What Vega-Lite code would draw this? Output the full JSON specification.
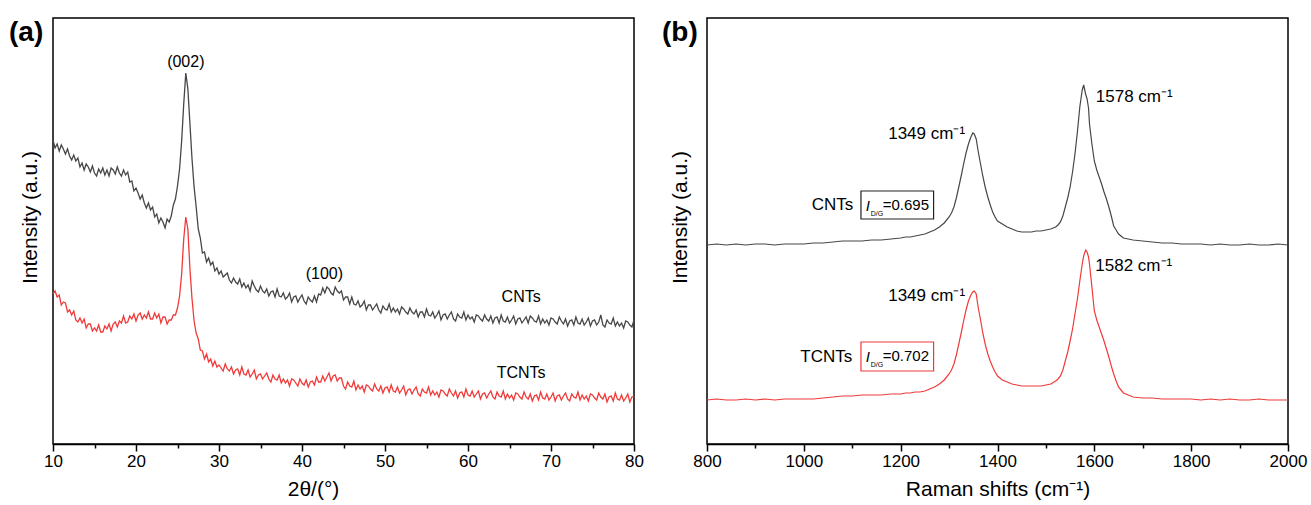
{
 "$schema": "https://vega.github.io/schema/vega-lite/v6.json",
 "padding": {"left": 8, "top": 17, "right": 10, "bottom": 0},
 "background": "white",
 "spacing": 16,
 "config": {
  "font": "Liberation Sans",
  "view": {"stroke": "black", "strokeWidth": 1.5},
  "axis": {"labelFont": "Liberation Sans", "titleFont": "Liberation Sans", "labelColor": "black", "titleColor": "black", "titleFontWeight": "normal", "grid": false, "domainColor": "black", "tickColor": "black"}
 },
 "datasets": {
  "xrd": [
   {"x":10,"CNTs":304,"TCNTs":150},{"x":10.25,"CNTs":296,"TCNTs":153},{"x":10.5,"CNTs":300,"TCNTs":147},{"x":10.75,"CNTs":293,"TCNTs":149},
   {"x":11,"CNTs":299,"TCNTs":139},{"x":11.25,"CNTs":295,"TCNTs":142},{"x":11.5,"CNTs":290,"TCNTs":141},{"x":11.75,"CNTs":295,"TCNTs":132},
   {"x":12,"CNTs":288,"TCNTs":134},{"x":12.25,"CNTs":284,"TCNTs":129},{"x":12.5,"CNTs":289,"TCNTs":133},{"x":12.75,"CNTs":283,"TCNTs":124},
   {"x":13,"CNTs":286,"TCNTs":122},{"x":13.25,"CNTs":277,"TCNTs":126},{"x":13.5,"CNTs":281,"TCNTs":121},{"x":13.75,"CNTs":274,"TCNTs":125},
   {"x":14,"CNTs":280,"TCNTs":116},{"x":14.25,"CNTs":277,"TCNTs":120},{"x":14.5,"CNTs":272,"TCNTs":120},{"x":14.75,"CNTs":278,"TCNTs":113},
   {"x":15,"CNTs":271,"TCNTs":116},{"x":15.25,"CNTs":268,"TCNTs":113},{"x":15.5,"CNTs":275,"TCNTs":119},{"x":15.75,"CNTs":271,"TCNTs":112},
   {"x":16,"CNTs":276,"TCNTs":112},{"x":16.25,"CNTs":269,"TCNTs":118},{"x":16.5,"CNTs":274,"TCNTs":115},{"x":16.75,"CNTs":268,"TCNTs":120},
   {"x":17,"CNTs":276,"TCNTs":113},{"x":17.25,"CNTs":274,"TCNTs":120},{"x":17.5,"CNTs":270,"TCNTs":122},{"x":17.75,"CNTs":277,"TCNTs":117},
   {"x":18,"CNTs":271,"TCNTs":123},{"x":18.25,"CNTs":268,"TCNTs":121},{"x":18.5,"CNTs":274,"TCNTs":128},{"x":18.75,"CNTs":269,"TCNTs":121},
   {"x":19,"CNTs":272,"TCNTs":122},{"x":19.25,"CNTs":262,"TCNTs":128},{"x":19.5,"CNTs":263,"TCNTs":125},{"x":19.75,"CNTs":253,"TCNTs":130},
   {"x":20,"CNTs":256,"TCNTs":123},{"x":20.25,"CNTs":251,"TCNTs":129},{"x":20.5,"CNTs":245,"TCNTs":131},{"x":20.75,"CNTs":249,"TCNTs":125},
   {"x":21,"CNTs":241,"TCNTs":129},{"x":21.25,"CNTs":236,"TCNTs":126},{"x":21.5,"CNTs":241,"TCNTs":132},{"x":21.75,"CNTs":234,"TCNTs":125},
   {"x":22,"CNTs":237,"TCNTs":125},{"x":22.25,"CNTs":227,"TCNTs":131},{"x":22.5,"CNTs":230,"TCNTs":126},{"x":22.75,"CNTs":221,"TCNTs":130},
   {"x":23,"CNTs":226,"TCNTs":121},{"x":23.25,"CNTs":222,"TCNTs":127},{"x":23.5,"CNTs":216,"TCNTs":127},{"x":23.75,"CNTs":225,"TCNTs":120},
   {"x":24,"CNTs":222,"TCNTs":124},{"x":24.25,"CNTs":228,"TCNTs":124},{"x":24.5,"CNTs":239,"TCNTs":129},{"x":24.75,"CNTs":245,"TCNTs":129},
   {"x":25,"CNTs":258,"TCNTs":136},{"x":25.25,"CNTs":275,"TCNTs":148},{"x":25.5,"CNTs":303,"TCNTs":170},{"x":25.75,"CNTs":340,"TCNTs":205},
   {"x":26,"CNTs":371,"TCNTs":227},{"x":26.25,"CNTs":355,"TCNTs":215},{"x":26.5,"CNTs":320,"TCNTs":175},{"x":26.75,"CNTs":285,"TCNTs":145},
   {"x":27,"CNTs":257,"TCNTs":123},{"x":27.25,"CNTs":237,"TCNTs":111},{"x":27.5,"CNTs":215,"TCNTs":105},{"x":27.75,"CNTs":206,"TCNTs":94},
   {"x":28,"CNTs":191,"TCNTs":93},{"x":28.25,"CNTs":192,"TCNTs":85},{"x":28.5,"CNTs":182,"TCNTs":90},{"x":28.75,"CNTs":186,"TCNTs":82},
   {"x":29,"CNTs":179,"TCNTs":85},{"x":29.25,"CNTs":182,"TCNTs":78},{"x":29.5,"CNTs":173,"TCNTs":83},{"x":29.75,"CNTs":176,"TCNTs":77},
   {"x":30,"CNTs":170,"TCNTs":79},
   {"x":30.25,"CNTs":173,"TCNTs":76},{"x":30.5,"CNTs":167,"TCNTs":73},{"x":30.75,"CNTs":169,"TCNTs":80},{"x":31,"CNTs":171,"TCNTs":75},
   {"x":31.25,"CNTs":164,"TCNTs":73},{"x":31.5,"CNTs":161,"TCNTs":77},{"x":31.75,"CNTs":166,"TCNTs":70},{"x":32,"CNTs":162,"TCNTs":74},
   {"x":32.25,"CNTs":160,"TCNTs":75},{"x":32.5,"CNTs":165,"TCNTs":69},{"x":32.75,"CNTs":157,"TCNTs":77},{"x":33,"CNTs":161,"TCNTs":70},
   {"x":33.25,"CNTs":156,"TCNTs":69},{"x":33.5,"CNTs":159,"TCNTs":74},{"x":33.75,"CNTs":153,"TCNTs":67},{"x":34,"CNTs":163,"TCNTs":70},
   {"x":34.25,"CNTs":158,"TCNTs":74},{"x":34.5,"CNTs":154,"TCNTs":65},{"x":34.75,"CNTs":152,"TCNTs":69},{"x":35,"CNTs":158,"TCNTs":70},
   {"x":35.25,"CNTs":153,"TCNTs":65},{"x":35.5,"CNTs":151,"TCNTs":68},{"x":35.75,"CNTs":155,"TCNTs":71},{"x":36,"CNTs":148,"TCNTs":65},
   {"x":36.25,"CNTs":152,"TCNTs":62},{"x":36.5,"CNTs":153,"TCNTs":69},{"x":36.75,"CNTs":147,"TCNTs":65},{"x":37,"CNTs":155,"TCNTs":64},
   {"x":37.25,"CNTs":148,"TCNTs":69},{"x":37.5,"CNTs":147,"TCNTs":61},{"x":37.75,"CNTs":151,"TCNTs":65},{"x":38,"CNTs":145,"TCNTs":61},
   {"x":38.25,"CNTs":147,"TCNTs":64},{"x":38.5,"CNTs":151,"TCNTs":58},{"x":38.75,"CNTs":142,"TCNTs":65},{"x":39,"CNTs":147,"TCNTs":64},
   {"x":39.25,"CNTs":148,"TCNTs":61},{"x":39.5,"CNTs":142,"TCNTs":58},{"x":39.75,"CNTs":146,"TCNTs":65},{"x":40,"CNTs":149,"TCNTs":61},
   {"x":40.25,"CNTs":143,"TCNTs":59},{"x":40.5,"CNTs":140,"TCNTs":64},{"x":40.75,"CNTs":147,"TCNTs":57},{"x":41,"CNTs":144,"TCNTs":62},
   {"x":41.25,"CNTs":142,"TCNTs":63},{"x":41.5,"CNTs":148,"TCNTs":59},{"x":41.75,"CNTs":142,"TCNTs":67},{"x":42,"CNTs":150,"TCNTs":62},
   {"x":42.25,"CNTs":149,"TCNTs":62},{"x":42.5,"CNTs":156,"TCNTs":68},{"x":42.75,"CNTs":151,"TCNTs":63},{"x":43,"CNTs":157,"TCNTs":67},
   {"x":43.25,"CNTs":155,"TCNTs":71},{"x":43.5,"CNTs":151,"TCNTs":63},{"x":43.75,"CNTs":149,"TCNTs":68},{"x":44,"CNTs":157,"TCNTs":69},
   {"x":44.25,"CNTs":153,"TCNTs":63},{"x":44.5,"CNTs":151,"TCNTs":66},{"x":44.75,"CNTs":153,"TCNTs":66},{"x":45,"CNTs":144,"TCNTs":58},
   {"x":45.25,"CNTs":147,"TCNTs":55},{"x":45.5,"CNTs":147,"TCNTs":62},{"x":45.75,"CNTs":140,"TCNTs":58},{"x":46,"CNTs":147,"TCNTs":57},
   {"x":46.25,"CNTs":140,"TCNTs":63},{"x":46.5,"CNTs":139,"TCNTs":54},{"x":46.75,"CNTs":143,"TCNTs":59},{"x":47,"CNTs":137,"TCNTs":55},
   {"x":47.25,"CNTs":139,"TCNTs":58},{"x":47.5,"CNTs":143,"TCNTs":52},{"x":47.75,"CNTs":134,"TCNTs":59},{"x":48,"CNTs":139,"TCNTs":58},
   {"x":48.25,"CNTs":139,"TCNTs":55},{"x":48.5,"CNTs":134,"TCNTs":53},{"x":48.75,"CNTs":137,"TCNTs":60},{"x":49,"CNTs":140,"TCNTs":55},
   {"x":49.25,"CNTs":134,"TCNTs":53},{"x":49.5,"CNTs":131,"TCNTs":58},{"x":49.75,"CNTs":138,"TCNTs":51},{"x":50,"CNTs":135,"TCNTs":56},
   {"x":50.25,"CNTs":134,"TCNTs":57},{"x":50.5,"CNTs":140,"TCNTs":52},{"x":50.75,"CNTs":132,"TCNTs":59},{"x":51,"CNTs":136,"TCNTs":53},
   {"x":51.25,"CNTs":132,"TCNTs":52},{"x":51.5,"CNTs":135,"TCNTs":57},{"x":51.75,"CNTs":130,"TCNTs":51},{"x":52,"CNTs":137,"TCNTs":54},
   {"x":52.25,"CNTs":135,"TCNTs":58},{"x":52.5,"CNTs":132,"TCNTs":49},{"x":52.75,"CNTs":130,"TCNTs":54},{"x":53,"CNTs":136,"TCNTs":55},
   {"x":53.25,"CNTs":132,"TCNTs":50},{"x":53.5,"CNTs":130,"TCNTs":54},{"x":53.75,"CNTs":134,"TCNTs":57},{"x":54,"CNTs":127,"TCNTs":50},
   {"x":54.25,"CNTs":132,"TCNTs":48},{"x":54.5,"CNTs":132,"TCNTs":55},{"x":54.75,"CNTs":127,"TCNTs":52},{"x":55,"CNTs":135,"TCNTs":51},
   {"x":55.25,"CNTs":129,"TCNTs":57},{"x":55.5,"CNTs":128,"TCNTs":49},{"x":55.75,"CNTs":132,"TCNTs":53},{"x":56,"CNTs":126,"TCNTs":49},
   {"x":56.25,"CNTs":129,"TCNTs":52},{"x":56.5,"CNTs":133,"TCNTs":47},{"x":56.75,"CNTs":124,"TCNTs":54},{"x":57,"CNTs":129,"TCNTs":53},
   {"x":57.25,"CNTs":130,"TCNTs":50},{"x":57.5,"CNTs":125,"TCNTs":48},{"x":57.75,"CNTs":129,"TCNTs":55},{"x":58,"CNTs":132,"TCNTs":51},
   {"x":58.25,"CNTs":125,"TCNTs":48},{"x":58.5,"CNTs":123,"TCNTs":53},{"x":58.75,"CNTs":130,"TCNTs":46},{"x":59,"CNTs":127,"TCNTs":51},
   {"x":59.25,"CNTs":126,"TCNTs":52},{"x":59.5,"CNTs":132,"TCNTs":47},{"x":59.75,"CNTs":124,"TCNTs":55},{"x":60,"CNTs":129,"TCNTs":49},
   {"x":60.25,"CNTs":125,"TCNTs":48},{"x":60.5,"CNTs":127,"TCNTs":53},{"x":60.75,"CNTs":122,"TCNTs":47},{"x":61,"CNTs":129,"TCNTs":50},
   {"x":61.25,"CNTs":128,"TCNTs":53},{"x":61.5,"CNTs":125,"TCNTs":45},{"x":61.75,"CNTs":123,"TCNTs":50},{"x":62,"CNTs":129,"TCNTs":51},
   {"x":62.25,"CNTs":125,"TCNTs":46},{"x":62.5,"CNTs":123,"TCNTs":50},{"x":62.75,"CNTs":128,"TCNTs":53},{"x":63,"CNTs":121,"TCNTs":47},
   {"x":63.25,"CNTs":126,"TCNTs":45},{"x":63.5,"CNTs":127,"TCNTs":52},{"x":63.75,"CNTs":121,"TCNTs":48},{"x":64,"CNTs":129,"TCNTs":47},
   {"x":64.25,"CNTs":123,"TCNTs":53},{"x":64.5,"CNTs":122,"TCNTs":45},{"x":64.75,"CNTs":127,"TCNTs":50},{"x":65,"CNTs":121,"TCNTs":46},
   {"x":65.25,"CNTs":124,"TCNTs":49},{"x":65.5,"CNTs":128,"TCNTs":44},{"x":65.75,"CNTs":120,"TCNTs":51},{"x":66,"CNTs":125,"TCNTs":50},
   {"x":66.25,"CNTs":126,"TCNTs":47},{"x":66.5,"CNTs":121,"TCNTs":45},{"x":66.75,"CNTs":124,"TCNTs":52},{"x":67,"CNTs":127,"TCNTs":47},
   {"x":67.25,"CNTs":121,"TCNTs":45},{"x":67.5,"CNTs":128,"TCNTs":50},{"x":67.75,"CNTs":126,"TCNTs":43},{"x":68,"CNTs":123,"TCNTs":48},
   {"x":68.25,"CNTs":122,"TCNTs":49},{"x":68.5,"CNTs":128,"TCNTs":44},{"x":68.75,"CNTs":120,"TCNTs":52},{"x":69,"CNTs":125,"TCNTs":46},
   {"x":69.25,"CNTs":121,"TCNTs":45},{"x":69.5,"CNTs":124,"TCNTs":50},{"x":69.75,"CNTs":119,"TCNTs":44},{"x":70,"CNTs":126,"TCNTs":47},
   {"x":70.25,"CNTs":125,"TCNTs":51},{"x":70.5,"CNTs":122,"TCNTs":43},{"x":70.75,"CNTs":120,"TCNTs":48},{"x":71,"CNTs":127,"TCNTs":49},
   {"x":71.25,"CNTs":123,"TCNTs":44},{"x":71.5,"CNTs":120,"TCNTs":48},{"x":71.75,"CNTs":125,"TCNTs":51},{"x":72,"CNTs":118,"TCNTs":45},
   {"x":72.25,"CNTs":123,"TCNTs":43},{"x":72.5,"CNTs":124,"TCNTs":50},{"x":72.75,"CNTs":119,"TCNTs":47},{"x":73,"CNTs":127,"TCNTs":46},
   {"x":73.25,"CNTs":121,"TCNTs":52},{"x":73.5,"CNTs":120,"TCNTs":44},{"x":73.75,"CNTs":125,"TCNTs":49},{"x":74,"CNTs":119,"TCNTs":45},
   {"x":74.25,"CNTs":122,"TCNTs":48},{"x":74.5,"CNTs":126,"TCNTs":43},{"x":74.75,"CNTs":118,"TCNTs":50},{"x":75,"CNTs":123,"TCNTs":49},
   {"x":75.25,"CNTs":124,"TCNTs":46},{"x":75.5,"CNTs":119,"TCNTs":44},{"x":75.75,"CNTs":122,"TCNTs":51},{"x":76,"CNTs":129,"TCNTs":47},
   {"x":76.25,"CNTs":119,"TCNTs":45},{"x":76.5,"CNTs":117,"TCNTs":50},{"x":76.75,"CNTs":124,"TCNTs":42},{"x":77,"CNTs":121,"TCNTs":47},
   {"x":77.25,"CNTs":120,"TCNTs":48},{"x":77.5,"CNTs":126,"TCNTs":43},{"x":77.75,"CNTs":118,"TCNTs":51},{"x":78,"CNTs":122,"TCNTs":45},
   {"x":78.25,"CNTs":118,"TCNTs":44},{"x":78.5,"CNTs":121,"TCNTs":49},{"x":78.75,"CNTs":116,"TCNTs":43},{"x":79,"CNTs":123,"TCNTs":46},
   {"x":79.25,"CNTs":122,"TCNTs":50},{"x":79.5,"CNTs":119,"TCNTs":42},{"x":79.75,"CNTs":117,"TCNTs":47},{"x":80,"CNTs":124,"TCNTs":48}
  ],
  "raman": [
   {"x":800,"CNTs":199,"TCNTs":44},{"x":820,"CNTs":200,"TCNTs":45},{"x":840,"CNTs":199,"TCNTs":44},{"x":860,"CNTs":200,"TCNTs":44},
   {"x":880,"CNTs":199,"TCNTs":45},{"x":900,"CNTs":200,"TCNTs":44},{"x":920,"CNTs":200,"TCNTs":45},{"x":940,"CNTs":199,"TCNTs":44},
   {"x":960,"CNTs":200,"TCNTs":45},{"x":980,"CNTs":200,"TCNTs":45},{"x":1000,"CNTs":200,"TCNTs":45},{"x":1020,"CNTs":201,"TCNTs":45},
   {"x":1040,"CNTs":201,"TCNTs":46},{"x":1060,"CNTs":202,"TCNTs":47},{"x":1080,"CNTs":203,"TCNTs":48},{"x":1100,"CNTs":203,"TCNTs":48},
   {"x":1120,"CNTs":203,"TCNTs":49},{"x":1140,"CNTs":204,"TCNTs":49},{"x":1160,"CNTs":204,"TCNTs":49},{"x":1180,"CNTs":205,"TCNTs":50},
   {"x":1200,"CNTs":206,"TCNTs":50},{"x":1210,"CNTs":207,"TCNTs":51},{"x":1220,"CNTs":207,"TCNTs":51},{"x":1230,"CNTs":208,"TCNTs":52},
   {"x":1240,"CNTs":209,"TCNTs":52},{"x":1250,"CNTs":210,"TCNTs":53},{"x":1260,"CNTs":212,"TCNTs":55},{"x":1270,"CNTs":214,"TCNTs":57},
   {"x":1280,"CNTs":217,"TCNTs":60},{"x":1290,"CNTs":221,"TCNTs":64},{"x":1300,"CNTs":227,"TCNTs":70},{"x":1305,"CNTs":231,"TCNTs":74},
   {"x":1310,"CNTs":237,"TCNTs":80},{"x":1315,"CNTs":246,"TCNTs":89},{"x":1320,"CNTs":257,"TCNTs":100},{"x":1325,"CNTs":268,"TCNTs":111},
   {"x":1330,"CNTs":280,"TCNTs":123},{"x":1335,"CNTs":291,"TCNTs":134},{"x":1340,"CNTs":300,"TCNTs":143},{"x":1345,"CNTs":307,"TCNTs":149},
   {"x":1349,"CNTs":311,"TCNTs":152},{"x":1352,"CNTs":310,"TCNTs":153},{"x":1356,"CNTs":305,"TCNTs":150},{"x":1360,"CNTs":293,"TCNTs":137},
   {"x":1365,"CNTs":280,"TCNTs":124},{"x":1370,"CNTs":267,"TCNTs":110},{"x":1375,"CNTs":256,"TCNTs":99},{"x":1380,"CNTs":247,"TCNTs":90},
   {"x":1385,"CNTs":239,"TCNTs":83},{"x":1390,"CNTs":232,"TCNTs":77},{"x":1395,"CNTs":227,"TCNTs":72},{"x":1400,"CNTs":223,"TCNTs":68},
   {"x":1410,"CNTs":220,"TCNTs":64},{"x":1420,"CNTs":217,"TCNTs":62},{"x":1430,"CNTs":215,"TCNTs":60},{"x":1440,"CNTs":213,"TCNTs":59},
   {"x":1450,"CNTs":212,"TCNTs":58},{"x":1460,"CNTs":212,"TCNTs":58},{"x":1470,"CNTs":212,"TCNTs":58},{"x":1480,"CNTs":213,"TCNTs":58},
   {"x":1490,"CNTs":213,"TCNTs":58},{"x":1500,"CNTs":214,"TCNTs":59},{"x":1510,"CNTs":215,"TCNTs":60},{"x":1520,"CNTs":217,"TCNTs":63},
   {"x":1525,"CNTs":219,"TCNTs":65},{"x":1530,"CNTs":222,"TCNTs":68},{"x":1535,"CNTs":228,"TCNTs":74},{"x":1540,"CNTs":237,"TCNTs":83},
   {"x":1545,"CNTs":246,"TCNTs":92},{"x":1550,"CNTs":257,"TCNTs":103},{"x":1555,"CNTs":272,"TCNTs":115},{"x":1560,"CNTs":290,"TCNTs":130},
   {"x":1565,"CNTs":312,"TCNTs":145},{"x":1570,"CNTs":337,"TCNTs":163},{"x":1575,"CNTs":354,"TCNTs":180},{"x":1578,"CNTs":359,"TCNTs":188},
   {"x":1582,"CNTs":350,"TCNTs":194},{"x":1585,"CNTs":345,"TCNTs":192},{"x":1588,"CNTs":336,"TCNTs":187},{"x":1590,"CNTs":320,"TCNTs":180},
   {"x":1595,"CNTs":300,"TCNTs":157},{"x":1600,"CNTs":283,"TCNTs":133},{"x":1605,"CNTs":274,"TCNTs":124},{"x":1610,"CNTs":267,"TCNTs":117},
   {"x":1615,"CNTs":260,"TCNTs":110},{"x":1620,"CNTs":252,"TCNTs":103},{"x":1625,"CNTs":245,"TCNTs":95},{"x":1630,"CNTs":237,"TCNTs":87},
   {"x":1635,"CNTs":228,"TCNTs":78},{"x":1640,"CNTs":218,"TCNTs":70},{"x":1645,"CNTs":214,"TCNTs":63},{"x":1650,"CNTs":210,"TCNTs":57},
   {"x":1655,"CNTs":208,"TCNTs":54},{"x":1660,"CNTs":206,"TCNTs":51},{"x":1670,"CNTs":205,"TCNTs":49},{"x":1680,"CNTs":204,"TCNTs":47},
   {"x":1700,"CNTs":203,"TCNTs":46},{"x":1720,"CNTs":202,"TCNTs":46},{"x":1740,"CNTs":201,"TCNTs":45},{"x":1760,"CNTs":201,"TCNTs":45},
   {"x":1780,"CNTs":200,"TCNTs":45},{"x":1800,"CNTs":200,"TCNTs":45},{"x":1820,"CNTs":200,"TCNTs":44},{"x":1840,"CNTs":199,"TCNTs":45},
   {"x":1860,"CNTs":200,"TCNTs":44},{"x":1880,"CNTs":199,"TCNTs":45},{"x":1900,"CNTs":199,"TCNTs":44},{"x":1920,"CNTs":200,"TCNTs":44},
   {"x":1940,"CNTs":199,"TCNTs":45},{"x":1960,"CNTs":199,"TCNTs":44},{"x":1980,"CNTs":200,"TCNTs":44},{"x":2000,"CNTs":199,"TCNTs":44}
  ],
  "annA": [
   {"x":26,"y":382,"t":"(002)"},{"x":42.7,"y":170,"t":"(100)"},{"x":66.4,"y":147,"t":"CNTs"},{"x":66.4,"y":71,"t":"TCNTs"}
  ],
  "annBR": [
   {"x":1333,"y":310,"t":"1349 cm⁻¹"},{"x":1333,"y":148,"t":"1349 cm⁻¹"},{"x":1102,"y":239,"t":"CNTs"},{"x":1100,"y":87,"t":"TCNTs"}
  ],
  "annBL": [
   {"x":1603,"y":347,"t":"1578 cm⁻¹"},{"x":1602,"y":178,"t":"1582 cm⁻¹"}
  ],
  "boxes": [
   {"x1":1118,"x2":1268,"y1":225,"y2":253,"s":"CNTs"},{"x1":1118,"x2":1268,"y1":73,"y2":102,"s":"TCNTs"}
  ],
  "idgI": [{"x":1128,"y":238,"t":"I"},{"x":1128,"y":87,"t":"I"}],
  "idgSub": [{"x":1138,"y":230,"t":"D/G"},{"x":1138,"y":79,"t":"D/G"}],
  "idgVal": [{"x":1163,"y":239,"t":"=0.695"},{"x":1163,"y":88,"t":"=0.702"}]
 },
 "hconcat": [
  {
   "width": 581, "height": 426,
   "layer": [
    {
     "data": {"name": "xrd"},
     "transform": [{"fold": ["CNTs", "TCNTs"], "as": ["series", "I"]}],
     "mark": {"type": "line", "strokeWidth": 1.3},
     "encoding": {
      "x": {"field": "x", "type": "quantitative", "scale": {"domain": [10, 80], "nice": false, "zero": false},
            "axis": {"title": "2θ/(°)", "titleX": 260, "values": [10,15,20,25,30,35,40,45,50,55,60,65,70,75,80],
                     "labelExpr": "datum.value % 10 === 0 ? datum.label : ''", "labelOverlap": false, "labelFlush": false,
                     "tickSize": {"condition": {"test": "datum.value % 10 === 0", "value": 7}, "value": 4},
                     "labelFontSize": 17, "titleFontSize": 21, "labelPadding": 2, "titlePadding": 9,
                     "domainWidth": 1.5, "tickWidth": 1.5}},
      "y": {"field": "I", "type": "quantitative", "scale": {"domain": [0, 426], "nice": false},
            "axis": {"title": "Intensity (a.u.)", "titleY": 199, "labels": false, "ticks": false, "domain": false, "titleFontSize": 21, "titlePadding": 13}},
      "color": {"field": "series", "type": "nominal", "scale": {"domain": ["CNTs", "TCNTs"], "range": ["#474747", "#f03a3a"]}, "legend": null}
     }
    },
    {
     "data": {"name": "annA"},
     "mark": {"type": "text", "fontSize": 16, "color": "black"},
     "encoding": {"x": {"field": "x", "type": "quantitative"}, "y": {"field": "y", "type": "quantitative"}, "text": {"field": "t"}}
    },
    {
     "data": {"values": [{"t": "(a)"}]},
     "mark": {"type": "text", "fontSize": 28, "fontWeight": "bold", "align": "left", "baseline": "top", "dx": -44, "dy": 1, "color": "black"},
     "encoding": {"x": {"datum": 10}, "y": {"datum": 426}, "text": {"field": "t"}}
    }
   ]
  },
  {
   "width": 581, "height": 426,
   "layer": [
    {
     "data": {"name": "raman"},
     "transform": [{"fold": ["CNTs", "TCNTs"], "as": ["series", "I"]}],
     "mark": {"type": "line", "strokeWidth": 1.2},
     "encoding": {
      "x": {"field": "x", "type": "quantitative", "scale": {"domain": [800, 2000], "nice": false, "zero": false},
            "axis": {"title": "Raman shifts (cm⁻¹)", "values": [800,900,1000,1100,1200,1300,1400,1500,1600,1700,1800,1900,2000],
                     "labelExpr": "datum.value % 200 === 0 ? datum.label : ''", "labelOverlap": false, "labelFlush": false, "format": "d",
                     "tickSize": {"condition": {"test": "datum.value % 200 === 0", "value": 7}, "value": 4},
                     "labelFontSize": 17, "titleFontSize": 21, "labelPadding": 2, "titlePadding": 9,
                     "domainWidth": 1.5, "tickWidth": 1.5}},
      "y": {"field": "I", "type": "quantitative", "scale": {"domain": [0, 426], "nice": false},
            "axis": {"title": "Intensity (a.u.)", "titleY": 199, "labels": false, "ticks": false, "domain": false, "titleFontSize": 21, "titlePadding": 17}},
      "color": {"field": "series", "type": "nominal", "scale": {"domain": ["CNTs", "TCNTs"], "range": ["#474747", "#f03a3a"]}, "legend": null}
     }
    },
    {
     "data": {"name": "annBR"},
     "mark": {"type": "text", "fontSize": 17, "align": "right", "color": "black"},
     "encoding": {"x": {"field": "x", "type": "quantitative"}, "y": {"field": "y", "type": "quantitative"}, "text": {"field": "t"}}
    },
    {
     "data": {"name": "annBL"},
     "mark": {"type": "text", "fontSize": 17, "align": "left", "color": "black"},
     "encoding": {"x": {"field": "x", "type": "quantitative"}, "y": {"field": "y", "type": "quantitative"}, "text": {"field": "t"}}
    },
    {
     "data": {"name": "boxes"},
     "mark": {"type": "rect", "filled": false, "strokeWidth": 1.2},
     "encoding": {"x": {"field": "x1", "type": "quantitative"}, "x2": {"field": "x2"}, "y": {"field": "y1", "type": "quantitative"}, "y2": {"field": "y2"},
                  "stroke": {"field": "s", "type": "nominal", "scale": {"domain": ["CNTs", "TCNTs"], "range": ["#222222", "#f03a3a"]}, "legend": null}}
    },
    {
     "data": {"name": "idgI"},
     "mark": {"type": "text", "fontSize": 15, "fontStyle": "italic", "align": "left", "color": "black"},
     "encoding": {"x": {"field": "x", "type": "quantitative"}, "y": {"field": "y", "type": "quantitative"}, "text": {"field": "t"}}
    },
    {
     "data": {"name": "idgSub"},
     "mark": {"type": "text", "fontSize": 7, "align": "left", "color": "black"},
     "encoding": {"x": {"field": "x", "type": "quantitative"}, "y": {"field": "y", "type": "quantitative"}, "text": {"field": "t"}}
    },
    {
     "data": {"name": "idgVal"},
     "mark": {"type": "text", "fontSize": 15, "align": "left", "color": "black"},
     "encoding": {"x": {"field": "x", "type": "quantitative"}, "y": {"field": "y", "type": "quantitative"}, "text": {"field": "t"}}
    },
    {
     "data": {"values": [{"t": "(b)"}]},
     "mark": {"type": "text", "fontSize": 28, "fontWeight": "bold", "align": "left", "baseline": "top", "dx": -45, "dy": 1, "color": "black"},
     "encoding": {"x": {"datum": 800}, "y": {"datum": 426}, "text": {"field": "t"}}
    }
   ]
  }
 ]
}
